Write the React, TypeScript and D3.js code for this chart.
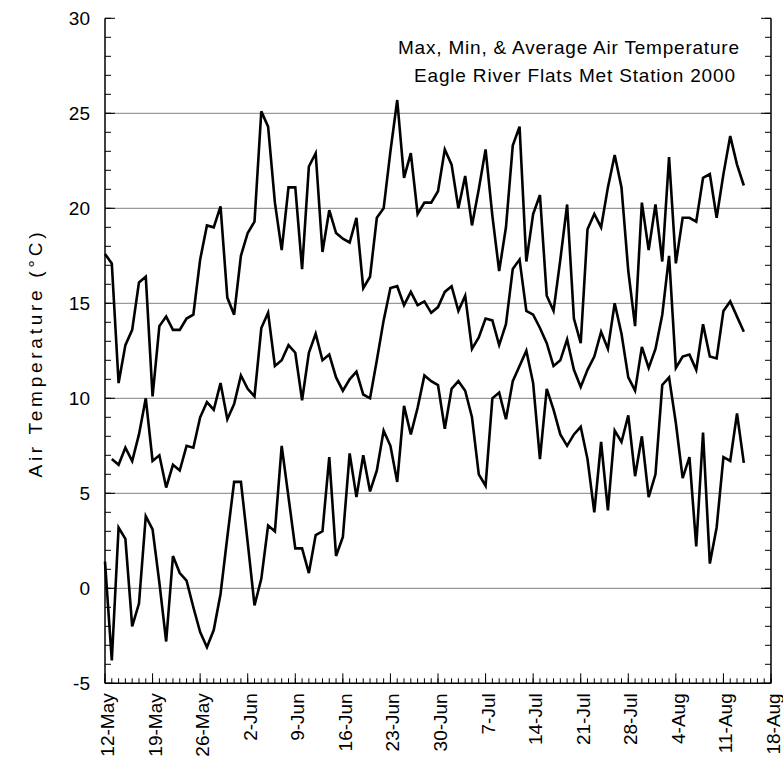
import React from "react";
import * as d3 from "d3";

const START = new Date(2000, 4, 12);
const END = new Date(2000, 7, 18);

const maxT = [
  17.6, 17.1, 10.8, 12.8, 13.6, 16.1, 16.4, 10.1, 13.8, 14.3,
  13.6, 13.6, 14.2, 14.4, 17.3, 19.1, 19.0, 20.1, 15.3, 14.4,
  17.5, 18.7, 19.3, 25.1, 24.3, 20.3, 17.8, 21.1, 21.1, 16.8,
  22.2, 22.9, 17.7, 19.9, 18.7, 18.4, 18.2, 19.5, 15.8, 16.4,
  19.5, 20.0, 23.0, 25.7, 21.6, 22.9, 19.7, 20.3, 20.3, 20.9,
  23.1, 22.3, 20.0, 21.7, 19.1, 21.0, 23.1, 19.6, 16.7, 19.0,
  23.3, 24.3, 17.2, 19.7, 20.7, 15.4, 14.6, 17.3, 20.2, 14.2,
  12.9, 18.9, 19.7, 19.0, 21.1, 22.8, 21.1, 16.7, 13.8, 20.3,
  17.8, 20.2, 17.2, 22.7, 17.1, 19.5, 19.5, 19.3, 21.6, 21.8,
  19.5, 21.8, 23.8, 22.3, 21.2,
];

const meanT: (number | null)[] = [
  null, 6.8, 6.5, 7.4, 6.7, 8.1, 10.0, 6.7, 7.0, 5.3,
  6.5, 6.2, 7.5, 7.4, 9.0, 9.8, 9.4, 10.8, 8.9, 9.7,
  11.2, 10.5, 10.1, 13.7, 14.5, 11.7, 12.0, 12.8, 12.4, 9.9,
  12.4, 13.4, 12.0, 12.3, 11.1, 10.4, 11.0, 11.4, 10.2, 10.0,
  12.0, 14.1, 15.8, 15.9, 14.9, 15.6, 14.9, 15.1, 14.5, 14.8,
  15.6, 15.9, 14.6, 15.4, 12.6, 13.2, 14.2, 14.1, 12.8, 13.9,
  16.8, 17.3, 14.6, 14.4, 13.7, 12.9, 11.7, 12.0, 13.1, 11.5,
  10.6, 11.5, 12.2, 13.5, 12.6, 15.0, 13.4, 11.1, 10.4, 12.7,
  11.6, 12.6, 14.4, 17.5, 11.6, 12.2, 12.3, 11.5, 13.9, 12.2,
  12.1, 14.6, 15.1, 14.3, 13.5,
];

const minT = [
  1.4, -3.8, 3.2, 2.6, -2.0, -0.8, 3.8, 3.1, 0.3, -2.8,
  1.7, 0.8, 0.4, -1.0, -2.3, -3.1, -2.2, -0.3, 2.7, 5.6,
  5.6, 2.4, -0.9, 0.5, 3.3, 3.0, 7.5, 4.8, 2.1, 2.1,
  0.8, 2.8, 3.0, 6.9, 1.7, 2.7, 7.1, 4.8, 7.0, 5.1,
  6.2, 8.3, 7.5, 5.6, 9.6, 8.1, 9.5, 11.2, 10.9, 10.7,
  8.4, 10.5, 10.9, 10.4, 9.0, 6.0, 5.4, 10.0, 10.3, 8.9,
  10.9, 11.7, 12.5, 10.8, 6.8, 10.5, 9.4, 8.1, 7.5, 8.1,
  8.5, 6.8, 4.0, 7.7, 4.1, 8.3, 7.7, 9.1, 5.9, 8.0,
  4.8, 6.0, 10.7, 11.1, 8.7, 5.8, 6.9, 2.2, 8.2, 1.3,
  3.2, 6.9, 6.7, 9.2, 6.6,
];

const yTicks = [-5, 0, 5, 10, 15, 20, 25, 30];
const titleLines = ["Max, Min, & Average Air Temperature", "Eagle River Flats Met Station 2000"];
const yLabel = "Air Temperature (°C)";

const W = 783;
const H = 759;
const L = 105;
const R = 771;
const T = 18.3;
const B = 683.3;
const FONT = "'Liberation Sans', Arial, Helvetica, sans-serif";

export default function App() {
  const x = d3.scaleTime().domain([START, END]).range([L, R]);
  const y = d3.scaleLinear().domain([-5, 30]).range([B, T]);
  const dateOf = (i: number) => d3.timeDay.offset(START, i);

  const line = d3
    .line<number | null>()
    .defined((d) => d !== null)
    .x((_, i) => x(dateOf(i)))
    .y((d) => y(d as number));

  const majorX = d3.timeFriday.range(START, d3.timeDay.offset(END, 1));
  const minorX = d3.timeDay.range(START, d3.timeDay.offset(END, 1));
  const minorY = d3.range(-5, 31, 1);
  const fmt = d3.timeFormat("%-d-%b");

  const titleGeom = [
    { cx: 568.5, by: 54, len: 341 },
    { cx: 574.5, by: 82, len: 321 },
  ];

  return (
    <svg
      width={W}
      height={H}
      style={{ position: "absolute", left: 0, top: 0, background: "#fff" }}
      fontFamily={FONT}
    >
      {yTicks
        .filter((t) => t > -5 && t < 30)
        .map((t) => (
          <line key={"g" + t} x1={L} x2={R} y1={y(t)} y2={y(t)} stroke="#808080" strokeWidth={1} />
        ))}
      {minorY.map((t) => (
        <g key={"my" + t}>
          <line x1={L} x2={L + 6} y1={y(t)} y2={y(t)} stroke="#000" strokeWidth={1} />
          <line x1={R} x2={R - 6} y1={y(t)} y2={y(t)} stroke="#000" strokeWidth={1} />
        </g>
      ))}
      {yTicks.map((t) => (
        <g key={"yt" + t}>
          <line x1={L} x2={L + 10} y1={y(t)} y2={y(t)} stroke="#000" strokeWidth={1} />
          <line x1={R} x2={R - 10} y1={y(t)} y2={y(t)} stroke="#000" strokeWidth={1} />
          <text x={L - 15} y={y(t)} dy="0.35em" textAnchor="end" fontSize={19}>
            {t}
          </text>
        </g>
      ))}
      {minorX.map((d, i) => (
        <line key={"mx" + i} x1={x(d)} x2={x(d)} y1={B} y2={B - 5} stroke="#000" strokeWidth={1} />
      ))}
      {majorX.map((d, i) => (
        <g key={"xt" + i}>
          <line x1={x(d)} x2={x(d)} y1={B} y2={B - 10} stroke="#000" strokeWidth={1} />
          <text
            transform={`translate(${x(d) + 9},${B + 10}) rotate(-90)`}
            textAnchor="end"
            fontSize={19}
          >
            {fmt(d)}
          </text>
        </g>
      ))}
      <line x1={L} x2={L} y1={T} y2={B} stroke="#000" strokeWidth={1.5} />
      <line x1={R} x2={R} y1={T} y2={B} stroke="#000" strokeWidth={1.5} />
      <line x1={L} x2={R} y1={B} y2={B} stroke="#000" strokeWidth={1.5} />

      {[maxT, meanT, minT].map((s, k) => (
        <path
          key={"s" + k}
          d={line(s as (number | null)[]) || ""}
          fill="none"
          stroke="#000"
          strokeWidth={2.6}
          strokeLinejoin="miter"
        />
      ))}

      {titleLines.map((t, i) => (
        <text
          key={"t" + i}
          x={titleGeom[i].cx}
          y={titleGeom[i].by}
          textAnchor="middle"
          fontSize={19}
          textLength={titleGeom[i].len}
          lengthAdjust="spacing"
        >
          {t}
        </text>
      ))}
      <text
        transform={`translate(42,355) rotate(-90)`}
        textAnchor="middle"
        fontSize={19}
        textLength={245}
        lengthAdjust="spacing"
      >
        {yLabel}
      </text>
    </svg>
  );
}
